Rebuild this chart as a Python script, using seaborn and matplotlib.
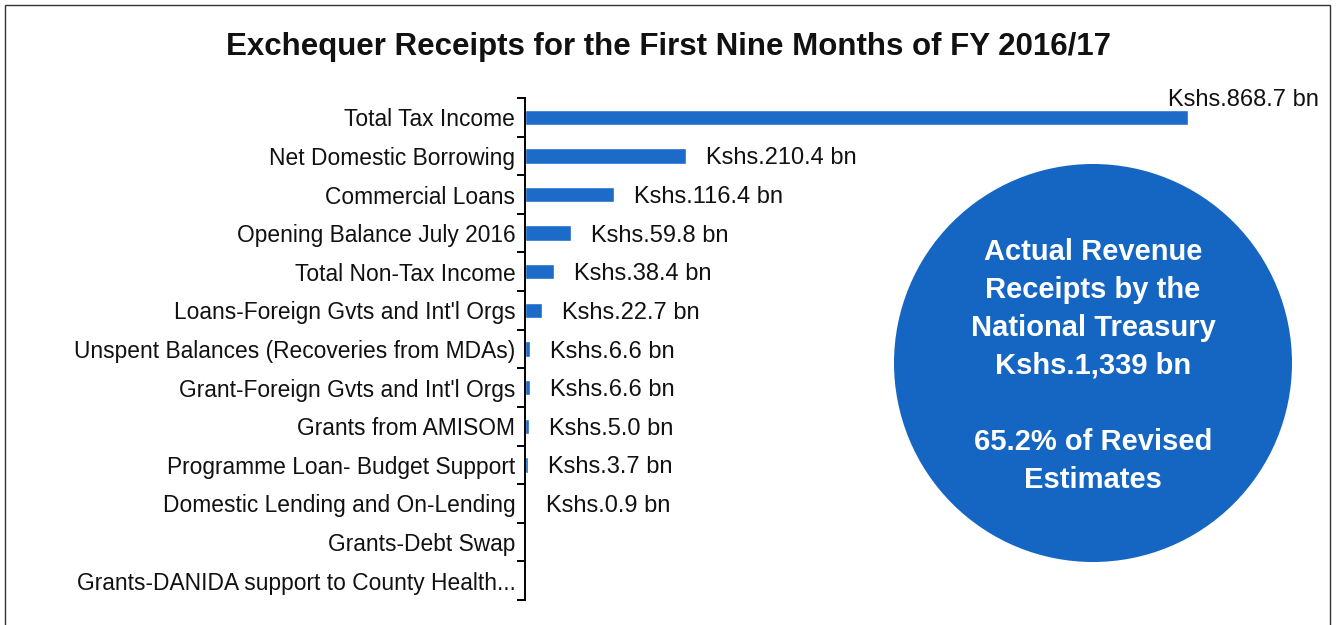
import matplotlib
matplotlib.use("Agg")
import matplotlib.pyplot as plt
import seaborn as sns
import pandas as pd
from matplotlib.patches import Ellipse, Rectangle
from matplotlib.ticker import FixedLocator

# data (Kshs bn)
categories = ['Total Tax Income', 'Net Domestic Borrowing', 'Commercial Loans',
              'Opening Balance July 2016', 'Total Non-Tax Income',
              "Loans-Foreign Gvts and Int'l Orgs",
              'Unspent Balances (Recoveries from MDAs)',
              "Grant-Foreign Gvts and Int'l Orgs", 'Grants from AMISOM',
              'Programme Loan- Budget Support', 'Domestic Lending and On-Lending',
              'Grants-Debt Swap', 'Grants-DANIDA support to County Health...']
values = [868.7, 210.4, 116.4, 59.8, 38.4, 22.7, 6.6, 6.6, 5.0, 3.7, 0.9, 0.0, 0.0]
value_labels = ['Kshs.868.7 bn', 'Kshs.210.4 bn', 'Kshs.116.4 bn', 'Kshs.59.8 bn',
                'Kshs.38.4 bn', 'Kshs.22.7 bn', 'Kshs.6.6 bn', 'Kshs.6.6 bn',
                'Kshs.5.0 bn', 'Kshs.3.7 bn', 'Kshs.0.9 bn', '', '']
title = 'Exchequer Receipts for the First Nine Months of FY 2016/17'
circle_text = ('Actual Revenue\nReceipts by the\nNational Treasury\nKshs.1,339 bn\n\n'
               '65.2% of Revised\nEstimates')

df = pd.DataFrame({'Category': categories, 'Value': values})

sns.set_style('white')
plt.rcParams['font.family'] = ['Liberation Sans', 'DejaVu Sans']

bar_color = '#1D6BC8'
circle_color = '#1466C2'

fig = plt.figure(figsize=(13.37, 6.25), dpi=100)
ax = fig.add_axes([525 / 1337, 25 / 625, 800 / 1337, 502 / 625])

sns.barplot(data=df, x='Value', y='Category', color=bar_color, width=0.4,
            saturation=1, ax=ax)

ax.set_xlim(0, 1048)
ax.set_ylim(len(categories) - 0.5, -0.5)
ax.set_xlabel('')
ax.set_ylabel('')
ax.set_xticks([])

for s in ['top', 'right', 'bottom']:
    ax.spines[s].set_visible(False)
ax.spines['left'].set_color('black')
ax.spines['left'].set_linewidth(1.4)

# ticks between categories
ax.yaxis.set_minor_locator(FixedLocator([i - 0.5 for i in range(len(categories) + 1)]))
ax.tick_params(axis='y', which='major', length=0, pad=7, labelsize=16.4, labelcolor='#111111')
ax.tick_params(axis='y', which='minor', length=6, width=1.4, color='black', left=True)
for t in ax.get_yticklabels():
    t.set_va('center_baseline')

# value labels
for i, (v, lab) in enumerate(zip(values, value_labels)):
    if not lab:
        continue
    if i == 0:
        ax.annotate(lab, xy=(v, i - 0.5), xytext=(-20, 0), textcoords='offset pixels',
                    ha='left', va='center_baseline', fontsize=17, color='#111111',
                    annotation_clip=False)
    else:
        ax.annotate(lab, xy=(v, i), xytext=(20, 0), textcoords='offset pixels',
                    ha='left', va='center_baseline', fontsize=17, color='#111111')

fig.text(0.5, 1 - 47 / 625, title, ha='center', va='center', fontsize=22.5,
         fontweight='bold', color='#111111')

# blue circle with summary
cx, cy, r = 1093 / 1337, 1 - 363 / 625, 199
fig.add_artist(Ellipse((cx, cy), 2 * r / 1337, 2 * r / 625, transform=fig.transFigure,
                       facecolor=circle_color, edgecolor='none'))
fig.text(cx, cy - 3 / 625, circle_text, ha='center', va='center', fontsize=21,
         fontweight='bold', color='white', linespacing=1.45)

# outer frame
fig.add_artist(Rectangle((5 / 1337, -0.02), 1325 / 1337, 1 - 5 / 625 + 0.02,
                         transform=fig.transFigure, fill=False,
                         edgecolor='#333333', linewidth=1))

fig.savefig('out.png', dpi=100)
